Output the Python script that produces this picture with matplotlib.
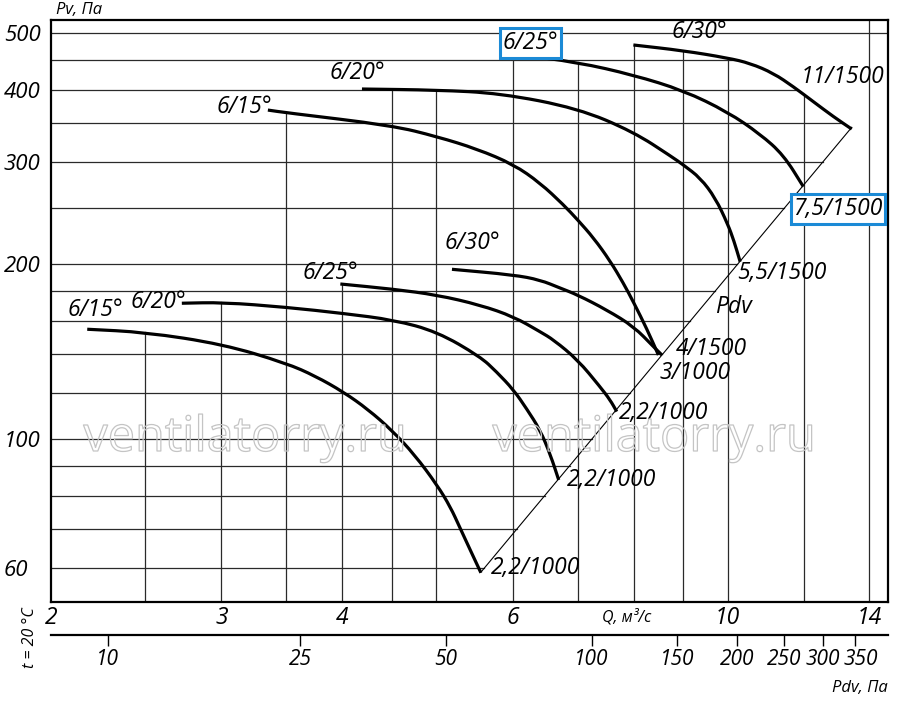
import numpy as np
import matplotlib
matplotlib.use('Agg')
import matplotlib.pyplot as plt
import matplotlib.patheffects as pe
import matplotlib.transforms as mtransforms
from matplotlib.path import Path
from matplotlib.patches import PathPatch
from matplotlib.ticker import NullLocator

plt.rcParams['font.family'] = ['Open Sans', 'DejaVu Sans']
plt.rcParams['font.style'] = 'italic'

# --- data (Q in m3/s, Pv in Pa) ---
# lower group, 1000 rpm
q_15_low = [2.18, 2.50, 3.01, 3.50, 3.75, 4.01, 4.25, 4.50, 4.75, 5.01, 5.17, 5.29, 5.42, 5.56]
pv_15_low = [154.7, 152.9, 145.8, 135.2, 128.5, 120.6, 112.6, 103.6, 94.0, 83.4, 76.5, 70.4, 64.5, 58.9]

q_20_low = [2.73, 3.01, 3.50, 4.01, 4.52, 5.01, 5.55, 5.77, 6.01, 6.20, 6.40, 6.56, 6.69]
pv_20_low = [171.5, 172.1, 168.8, 164.7, 160.5, 153.2, 138.8, 130.7, 121.6, 112.8, 103.8, 94.0, 85.1]

q_25_low = [3.98, 4.52, 5.01, 5.55, 6.01, 6.40, 6.61, 7.00, 7.38, 7.56, 7.68]
pv_25_low = [185.1, 181.3, 177.2, 170.3, 162.6, 153.2, 148.3, 137.0, 123.2, 116.9, 111.6]

q_30_low = [5.19, 6.01, 6.40, 6.71, 7.00, 7.50, 8.00, 8.38, 8.55]
pv_30_low = [196.2, 191.9, 188.1, 182.2, 177.2, 167.0, 156.3, 144.4, 139.7]

# upper group, 1500 rpm
q_15_up = [3.35, 3.50, 4.50, 5.01, 5.51, 6.01, 6.40, 6.77, 7.00, 7.27, 7.56, 7.80, 8.00, 8.25, 8.48]
pv_15_up = [368.9, 365.0, 347.0, 332.0, 316.1, 297.3, 276.3, 253.2, 238.6, 222.1, 202.8, 185.9, 171.7, 154.9, 139.7]

q_20_up = [4.19, 5.01, 5.82, 7.00, 7.99, 8.76, 9.00, 9.37, 9.71, 10.0, 10.15, 10.30]
pv_20_up = [401.0, 399.4, 394.3, 371.5, 338.4, 306.3, 296.7, 281.8, 260.3, 234.8, 219.5, 202.2]

q_25_up = [6.03, 7.00, 7.99, 9.00, 10.0, 10.80, 11.42, 11.97]
pv_25_up = [460.2, 445.8, 423.9, 398.7, 366.1, 335.4, 308.7, 272.3]

q_30_up = [7.99, 9.00, 10.0, 10.55, 11.15, 11.69, 12.26, 12.86, 13.43]
pv_30_up = [477.5, 466.8, 453.5, 444.0, 426.8, 404.7, 381.3, 359.3, 342.1]

# dynamic pressure Pdv = K * Q^2
K_PDV = 1.91

q_ticks = [2, 3, 4, 6, 10, 14]
pv_ticks = [60, 100, 200, 300, 400, 500]
pdv_ticks = [10, 25, 50, 100, 150, 200, 250, 300, 350]

q_grid = [2.5, 3, 3.5, 4, 4.5, 5, 6, 7, 8, 9, 10, 12, 14]
q_grid_top = ['15_low', '20_low', '15_up', '25_low', '20_up', '20_up',
              '25_up', '25_up', '30_up', '30_up', '30_up', '30_up', None]
pv_grid = [60, 70, 80, 90, 100, 120, 140, 160, 180, 200, 250, 300, 350, 400, 450, 500]

curves = {
    '15_low': (q_15_low, pv_15_low),
    '20_low': (q_20_low, pv_20_low),
    '25_low': (q_25_low, pv_25_low),
    '30_low': (q_30_low, pv_30_low),
    '15_up': (q_15_up, pv_15_up),
    '20_up': (q_20_up, pv_20_up),
    '25_up': (q_25_up, pv_25_up),
    '30_up': (q_30_up, pv_30_up),
}

XLIM = (2, 14.64)
YLIM = (52.46, 527.2)


def curve_at(q, key):
    qs, ps = curves[key]
    return 10 ** np.interp(np.log10(q), np.log10(qs), np.log10(ps))


def right_end(p):
    # horizontal grid lines stop at the Pdv line or at the outer curve
    qs, ps = curves['30_up']
    if p <= K_PDV * qs[-1] ** 2:
        return np.sqrt(p / K_PDV)
    if p > max(ps):
        return XLIM[1]
    return 10 ** np.interp(np.log10(p), np.log10(ps[::-1]), np.log10(qs[::-1]))


def smooth_path(qs, ps):
    # quadratic b-spline through the read points (midpoints taken in log space)
    pts = np.column_stack([qs, ps])
    mids = np.sqrt(pts[:-1] * pts[1:])
    verts = [pts[0], mids[0]]
    codes = [Path.MOVETO, Path.LINETO]
    for i in range(1, len(pts) - 1):
        verts += [pts[i], mids[i]]
        codes += [Path.CURVE3, Path.CURVE3]
    verts.append(pts[-1])
    codes.append(Path.LINETO)
    return Path(verts, codes)


fig = plt.figure(figsize=(9, 7.06), dpi=100)
ax = fig.add_axes([51 / 900, 104 / 706, 837 / 900, 582 / 706])
ax.set_xscale('log')
ax.set_yscale('log')
ax.set_xlim(*XLIM)
ax.set_ylim(*YLIM)

grid_kw = dict(color='#2a2a2a', lw=0.9, zorder=1)
for q, key in zip(q_grid, q_grid_top):
    top = YLIM[1] if key is None else curve_at(q, key)
    ax.plot([q, q], [YLIM[0], top], **grid_kw)
for p in pv_grid:
    ax.plot([XLIM[0], right_end(p)], [p, p], **grid_kw)

# Pdv line
q_diag = np.array([q_15_low[-1], q_30_up[-1]])
ax.plot(q_diag, K_PDV * q_diag ** 2, color='black', lw=0.8, zorder=2)

for key, (qs, ps) in curves.items():
    ax.add_patch(PathPatch(smooth_path(qs, ps), fill=False, ec='black', lw=2.3,
                           capstyle='butt', zorder=3))

# curve labels
labels = [
    (2.22, 167.0, '6/15°'), (2.58, 172.4, '6/20°'), (3.89, 193.4, '6/25°'),
    (5.45, 217.7, '6/30°'), (3.17, 373.4, '6/15°'), (4.14, 427.3, '6/20°'),
    (9.34, 502.7, '6/30°'), (13.13, 420.6, '11/1500'), (11.38, 193.4, '5,5/1500'),
    (10.13, 169.0, 'Pdv'), (9.61, 143.1, '4/1500'), (9.25, 130.1, '3/1000'),
    (8.58, 111.0, '2,2/1000'), (7.58, 85.1, '2,2/1000'), (6.33, 60.0, '2,2/1000'),
]
for q, p, s in labels:
    ax.text(q, p, s, ha='center', va='center', fontsize=16.5, zorder=4)

box = dict(boxstyle='square,pad=0.12', fc='white', ec='#1b8ad6', lw=2.2)
ax.text(6.25, 481.3, '6/25°', ha='center', va='center', fontsize=16.5, zorder=6, bbox=box)
ax.text(13.0, 249.2, '7,5/1500', ha='center', va='center', fontsize=16.5, zorder=6, bbox=box)

# watermark
for xf in (245 / 900, 654 / 900):
    fig.text(xf, 1 - 451 / 706, 'ventilatorry.ru', ha='center', va='baseline',
             fontsize=35, style='normal', color='none', zorder=0,
             path_effects=[pe.withStroke(linewidth=0.9, foreground='#c4c4c4')])

# axes ticks
ax.xaxis.set_minor_locator(NullLocator())
ax.yaxis.set_minor_locator(NullLocator())
ax.set_xticks(q_ticks)
ax.set_xticklabels([str(v) for v in q_ticks])
ax.set_yticks(pv_ticks)
ax.set_yticklabels([str(v) for v in pv_ticks])
ax.tick_params(axis='x', length=0, pad=3, labelsize=16.5)
ax.tick_params(axis='y', length=0, pad=34, labelsize=16)
for lbl in ax.get_yticklabels():
    lbl.set_horizontalalignment('left')
for sp in ax.spines.values():
    sp.set_linewidth(1.6)

# Pdv scale below
sec = ax.secondary_xaxis(-33 / 582, functions=(lambda q: K_PDV * np.asarray(q) ** 2,
                                               lambda p: np.sqrt(np.abs(p) / K_PDV)))
sec.set_xticks(pdv_ticks)
sec.set_xticklabels([str(v) for v in pdv_ticks])
sec.xaxis.set_minor_locator(NullLocator())
sec.spines['bottom'].set_linewidth(1.6)
sec.tick_params(direction='out', length=8, width=1.0, pad=2, labelsize=15)
sec_labels = sec.get_xticklabels()
shift = mtransforms.ScaledTranslation(6 / 100, 0, fig.dpi_scale_trans)
sec_labels[-1].set_transform(sec_labels[-1].get_transform() + shift)

fig.text(56 / 900, 1 - 10 / 706, 'Pv, Па', ha='left', va='center', fontsize=12)
fig.text(627 / 900, 1 - 617 / 706, 'Q, м³/с', ha='center', va='center', fontsize=11.5)
fig.text(888 / 900, 1 - 688 / 706, 'Pdv, Па', ha='right', va='center', fontsize=12)
fig.text(30 / 900, 1 - 638 / 706, 't = 20 °C', rotation=90, ha='center', va='center', fontsize=11.5)

fig.savefig('out.png', dpi=100)
